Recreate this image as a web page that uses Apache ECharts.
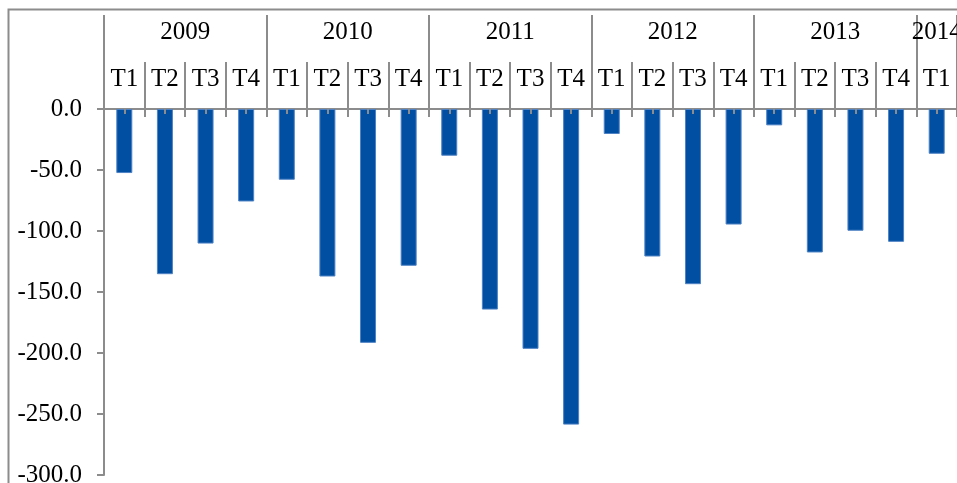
<!DOCTYPE html>
<html>
<head>
<meta charset="utf-8">
<script src="https://cdn.jsdelivr.net/npm/echarts@6/dist/echarts.min.js"></script>
<style>
  html, body { margin: 0; padding: 0; background: #fff; overflow: hidden; }
  #chart { width: 957px; height: 483px; }
</style>
</head>
<body>
<div id="chart"></div>
<script>
// data
var years = ['2009', '2010', '2011', '2012', '2013', '2014'];
var quartersInYear = [4, 4, 4, 4, 4, 1];
var quarterNames = ['T1', 'T2', 'T3', 'T4'];
var values = [
  -52.5, -135.4, -110.3, -75.8,
  -58.0, -137.3, -191.7, -128.5,
  -38.3, -164.4, -196.6, -258.7,
  -20.5, -120.9, -143.6, -94.7,
  -13.4, -117.6, -99.8, -108.9,
  -36.7
];
var yTicks = [0, -50, -100, -150, -200, -250, -300];

// quarter categories
var quarters = [];
quartersInYear.forEach(function (n) {
  for (var i = 0; i < n; i++) quarters.push(quarterNames[i]);
});

// year axis in half-category steps: label in the middle of each year
var yearPoints = [];
for (var k = 0; k <= quarters.length * 2; k++) yearPoints.push('');
var yearStarts = [0];
var start = 0;
quartersInYear.forEach(function (n, i) {
  yearPoints[start + n] = years[i];
  start += n * 2;
  yearStarts.push(start);
});

var gray = '#8c8c8c';
var font = 'Liberation Serif';

var chart = echarts.init(document.getElementById('chart'));
chart.setOption({
  animation: false,
  backgroundColor: '#fff',
  grid: { left: 104, right: 0, top: 109, bottom: 8, containLabel: false, outerBoundsMode: 'none' },
  graphic: [{
    type: 'polyline',
    shape: { points: [[8.5, 490], [8.5, 9.5], [960, 9.5]] },
    style: { stroke: gray, lineWidth: 2, fill: null }
  }],
  xAxis: [
    {
      type: 'category',
      data: quarters,
      position: 'top',
      axisLine: { onZero: false, lineStyle: { color: gray, width: 2 } },
      axisTick: { show: true, length: 47, lineStyle: { color: gray, width: 2 } },
      axisLabel: {
        interval: 0, margin: 17, color: '#000',
        fontFamily: font, fontSize: 25
      },
      splitLine: { show: false }
    },
    {
      type: 'category',
      data: quarters,
      position: 'top',
      axisLine: { show: false, onZero: false },
      axisTick: { show: true, inside: true, length: 8, lineStyle: { color: gray, width: 2 } },
      axisLabel: { show: false },
      splitLine: { show: false }
    },
    {
      type: 'category',
      data: quarters,
      position: 'top',
      z: 5,
      axisLine: { show: false, onZero: false },
      axisTick: { show: true, inside: true, alignWithLabel: true, length: 5, lineStyle: { color: gray, width: 2 } },
      axisLabel: { show: false },
      splitLine: { show: false }
    },
    {
      type: 'category',
      data: yearPoints,
      boundaryGap: false,
      position: 'top',
      axisLine: { show: false, onZero: false },
      axisTick: {
        show: true, length: 94,
        interval: function (i) { return yearStarts.indexOf(i) >= 0; },
        lineStyle: { color: gray, width: 2 }
      },
      axisLabel: {
        margin: 64, color: '#000', fontFamily: font, fontSize: 25,
        interval: function (i, v) { return v !== ''; }
      },
      splitLine: { show: false }
    }
  ],
  yAxis: {
    type: 'value',
    min: -300,
    max: 0,
    interval: 50,
    axisLine: { show: true, lineStyle: { color: gray, width: 2 } },
    axisTick: { show: true, length: 7, lineStyle: { color: gray, width: 2 } },
    axisLabel: {
      margin: 22, color: '#000', fontFamily: font, fontSize: 25,
      formatter: function (v) { return yTicks.indexOf(v) >= 0 ? v.toFixed(1) : ''; }
    },
    splitLine: { show: false }
  },
  series: [{
    type: 'bar',
    xAxisIndex: 0,
    data: values,
    barWidth: 16,
    itemStyle: { color: '#004fa2', borderColor: '#4f82c4', borderWidth: 1 }
  }]
});
</script>
</body>
</html>
